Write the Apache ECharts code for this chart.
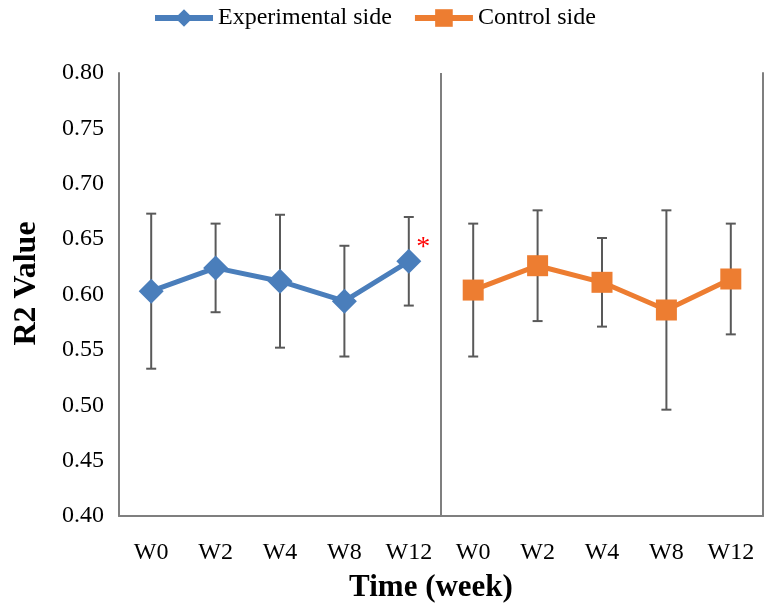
<!DOCTYPE html>
<html><head><meta charset="utf-8">
<script src="https://cdn.jsdelivr.net/npm/echarts@6/dist/echarts.min.js"></script>
<style>html,body{margin:0;padding:0;background:#fff}#c{width:767px;height:608px}</style>
</head><body><div id="c"></div>
<script>
const weeks = ['W0', 'W2', 'W4', 'W8', 'W12'];
const categories = weeks.concat(weeks);
const expMean = [0.603, 0.624, 0.612, 0.594, 0.630];
const expSD   = [0.070, 0.040, 0.060, 0.050, 0.040];
const ctrlMean = [0.604, 0.626, 0.611, 0.586, 0.614];
const ctrlSD   = [0.060, 0.050, 0.040, 0.090, 0.050];
const yTicks = { min: 0.40, max: 0.80, interval: 0.05 };
const significant = [false, false, false, false, true];
const groupSplit = [[4, 5]];  // divider between last experimental and first control category

const FONT = '"Liberation Serif", "Times New Roman", serif';
const BLUE = '#4a7ebb', ORANGE = '#ED7D31', GRAY = '#7f7f7f';

const expData = expMean.map((v, i) => {
  const d = { value: [i, v] };
  if (significant[i]) {
    d.label = { show: true, formatter: '*', position: 'right', offset: [-10, -14],
      color: '#ff0000', fontSize: 28, fontFamily: FONT };
  }
  return d;
});
const ctrlData = ctrlMean.map((v, i) => [i + 5, v]);
const errData = expMean.map((v, i) => [i, v, expSD[i]])
  .concat(ctrlMean.map((v, i) => [i + 5, v, ctrlSD[i]]));

const chart = echarts.init(document.getElementById('c'));
chart.setOption({
  animation: false,
  backgroundColor: '#fff',
  textStyle: { fontFamily: FONT },
  legend: {
    top: 1, left: 147, itemWidth: 58, itemHeight: 22, itemGap: 20,
    textStyle: { fontFamily: FONT, fontSize: 24, color: '#000' },
    data: [
      { name: 'Experimental side', lineStyle: { width: 6 } },
      { name: 'Control side', lineStyle: { width: 6 } }
    ]
  },
  grid: { left: 119, right: 4, top: 73, bottom: 92, containLabel: false },
  xAxis: {
    type: 'category', data: categories, boundaryGap: true,
    name: 'Time (week)', nameLocation: 'middle', nameGap: 56,
    nameTextStyle: { fontFamily: FONT, fontSize: 31, fontWeight: 'bold', color: '#000', padding: [0, 20, 0, 0] },
    axisLine: { show: true, lineStyle: { color: GRAY, width: 2 } },
    axisTick: { show: false },
    axisLabel: { margin: 25, fontSize: 24, color: '#000', fontFamily: FONT, interval: 0 },
    splitLine: { show: false }
  },
  yAxis: [{
    type: 'value', min: yTicks.min, max: yTicks.max, interval: yTicks.interval,
    name: 'R2 Value', nameLocation: 'middle', nameGap: 76,
    nameTextStyle: { fontFamily: FONT, fontSize: 32, fontWeight: 'bold', color: '#000', padding: [0, 0, 0, 22] },
    axisLine: { show: true, lineStyle: { color: GRAY, width: 2 } },
    axisTick: { show: false },
    splitLine: { show: false },
    axisLabel: { margin: 15, fontSize: 24, color: '#000', fontFamily: FONT,
      formatter: v => v.toFixed(2) }
  }, {
    type: 'value', position: 'right', min: yTicks.min, max: yTicks.max, interval: yTicks.interval,
    axisLine: { show: true, lineStyle: { color: GRAY, width: 2 } },
    axisTick: { show: false }, axisLabel: { show: false }, splitLine: { show: false }
  }],
  series: [
    {
      type: 'custom', name: 'divider', z: 0, data: groupSplit, silent: true,
      renderItem: (params, api) => {
        const a = api.coord([api.value(0), yTicks.min]);
        const b = api.coord([api.value(1), yTicks.min]);
        const x = (a[0] + b[0]) / 2;
        const cs = params.coordSys;
        return { type: 'line', shape: { x1: x, y1: cs.y, x2: x, y2: cs.y + cs.height },
          style: { stroke: GRAY, lineWidth: 2 } };
      }
    },
    {
      type: 'custom', name: 'err', z: 1, data: errData, silent: true,
      renderItem: (params, api) => {
        const x = api.value(0), m = api.value(1), s = api.value(2);
        const top = api.coord([x, m + s]);
        const bot = api.coord([x, m - s]);
        const hw = 5;
        const st = { stroke: '#595959', lineWidth: 2 };
        return { type: 'group', children: [
          { type: 'line', shape: { x1: top[0], y1: top[1], x2: bot[0], y2: bot[1] }, style: st },
          { type: 'line', shape: { x1: top[0] - hw, y1: top[1], x2: top[0] + hw, y2: top[1] }, style: st },
          { type: 'line', shape: { x1: bot[0] - hw, y1: bot[1], x2: bot[0] + hw, y2: bot[1] }, style: st }
        ] };
      }
    },
    {
      type: 'line', name: 'Experimental side', z: 3, data: expData,
      symbol: 'diamond', symbolSize: 25,
      lineStyle: { color: BLUE, width: 5 }, itemStyle: { color: BLUE }
    },
    {
      type: 'line', name: 'Control side', z: 3, data: ctrlData,
      symbol: 'rect', symbolSize: 21,
      lineStyle: { color: ORANGE, width: 5 }, itemStyle: { color: ORANGE }
    }
  ]
});
</script></body></html>
